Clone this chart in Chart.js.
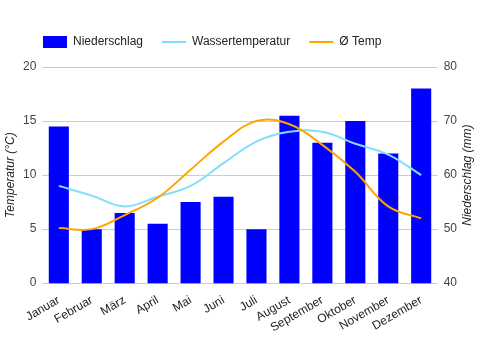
<!DOCTYPE html>
<html>
<head>
    <title>Klima</title>
    <script src="https://cdn.jsdelivr.net/npm/chart.js"></script>
    <style>
        body {
            margin: 0;
            padding: 0;
            background-color: #ffffff;
        }

        .chart-box {
            width: 481px;
            height: 350px;
        }
    </style>
</head>
<body>
    <div class="chart-box">
        <canvas id="klimaChart"></canvas>
    </div>

    <script>
        var monate = ["Januar", "Februar", "März", "April", "Mai", "Juni", "Juli", "August", "September", "Oktober", "November", "Dezember"];
        var niederschlag = [69, 50, 53, 51, 55, 56, 50, 71, 66, 70, 64, 76];
        var wassertemperatur = [9, 8.1, 7.1, 8, 9, 11.1, 13.1, 14, 14, 12.9, 11.9, 10];
        var temp = [5.1, 5, 6.3, 7.9, 10.5, 13.1, 15, 14.7, 12.8, 10.3, 7.1, 6];

        var fontFamily = "Arial, 'Liberation Sans', sans-serif";

        // legend: shift to the left edge of the plot and leave room below it
        var legendTweak = {
            id: 'legendTweak',
            beforeInit: function (chart) {
                var fit = chart.legend.fit;
                chart.legend.fit = function () {
                    fit.call(chart.legend);
                    this.height += 9;
                };
            },
            afterLayout: function (chart) {
                chart.legend.left = 24;
            }
        };

        // right axis title reads bottom-to-top like the left one
        var rechterTitel = {
            id: 'rechterTitel',
            afterDraw: function (chart) {
                var ctx = chart.ctx;
                var area = chart.chartArea;
                ctx.save();
                ctx.translate(468, (area.top + area.bottom) / 2);
                ctx.rotate(-Math.PI / 2);
                ctx.font = 'italic 12px ' + fontFamily;
                ctx.fillStyle = '#222222';
                ctx.textAlign = 'center';
                ctx.textBaseline = 'middle';
                ctx.fillText('Niederschlag (mm)', 0, 0);
                ctx.restore();
            }
        };

        new Chart(document.getElementById('klimaChart').getContext('2d'), {
            type: 'bar',
            data: {
                labels: monate,
                datasets: [{
                    label: 'Niederschlag',
                    data: niederschlag,
                    backgroundColor: '#0000ff',
                    yAxisID: 'yRechts',
                    barPercentage: 0.61,
                    categoryPercentage: 1,
                    order: 2
                }, {
                    type: 'line',
                    label: 'Wassertemperatur',
                    data: wassertemperatur,
                    borderColor: '#80dfff',
                    backgroundColor: '#80dfff',
                    borderWidth: 2,
                    pointRadius: 0,
                    tension: 0.4,
                    yAxisID: 'yLinks',
                    order: 1
                }, {
                    type: 'line',
                    label: 'Ø Temp',
                    data: temp,
                    borderColor: '#ffa500',
                    backgroundColor: '#ffa500',
                    borderWidth: 2,
                    pointRadius: 0,
                    tension: 0.4,
                    yAxisID: 'yLinks',
                    order: 0
                }]
            },
            options: {
                responsive: true,
                maintainAspectRatio: false,
                animation: false,
                layout: {
                    padding: { top: 17, bottom: 13, left: 5, right: 18 }
                },
                plugins: {
                    legend: {
                        position: 'top',
                        align: 'start',
                        labels: {
                            usePointStyle: true,
                            pointStyleWidth: 24,
                            boxWidth: 24,
                            boxHeight: 12,
                            padding: 19,
                            color: '#222222',
                            font: { family: fontFamily, size: 12 },
                            sort: function (a, b) { return a.datasetIndex - b.datasetIndex; },
                            generateLabels: function (chart) {
                                var items = Chart.defaults.plugins.legend.labels.generateLabels(chart);
                                items.forEach(function (it) {
                                    if (it.datasetIndex === 0) {
                                        it.pointStyle = 'rect';
                                        it.lineWidth = 0;
                                    } else {
                                        it.pointStyle = 'line';
                                        it.lineWidth = 2;
                                    }
                                });
                                return items;
                            }
                        }
                    },
                    tooltip: { enabled: false }
                },
                scales: {
                    x: {
                        grid: { display: false },
                        border: { display: false },
                        ticks: {
                            color: '#222222',
                            font: { family: fontFamily, size: 12 },
                            minRotation: 30,
                            maxRotation: 30,
                            autoSkip: false,
                            padding: 2
                        }
                    },
                    yLinks: {
                        position: 'left',
                        min: 0,
                        max: 20,
                        border: { display: false },
                        grid: { color: '#cccccc', drawTicks: false },
                        ticks: {
                            stepSize: 5,
                            color: '#444444',
                            padding: 6,
                            font: { family: fontFamily, size: 12 }
                        },
                        title: {
                            display: true,
                            text: 'Temperatur (°C)',
                            color: '#222222',
                            padding: 0,
                            font: { family: fontFamily, size: 12, style: 'italic', lineHeight: 1 }
                        }
                    },
                    yRechts: {
                        position: 'right',
                        min: 40,
                        max: 80,
                        border: { display: false },
                        grid: { drawOnChartArea: false, drawTicks: false },
                        ticks: {
                            stepSize: 10,
                            color: '#444444',
                            padding: 6,
                            font: { family: fontFamily, size: 12 }
                        }
                    }
                }
            },
            plugins: [legendTweak, rechterTitel]
        });
    </script>
</body>
</html>
